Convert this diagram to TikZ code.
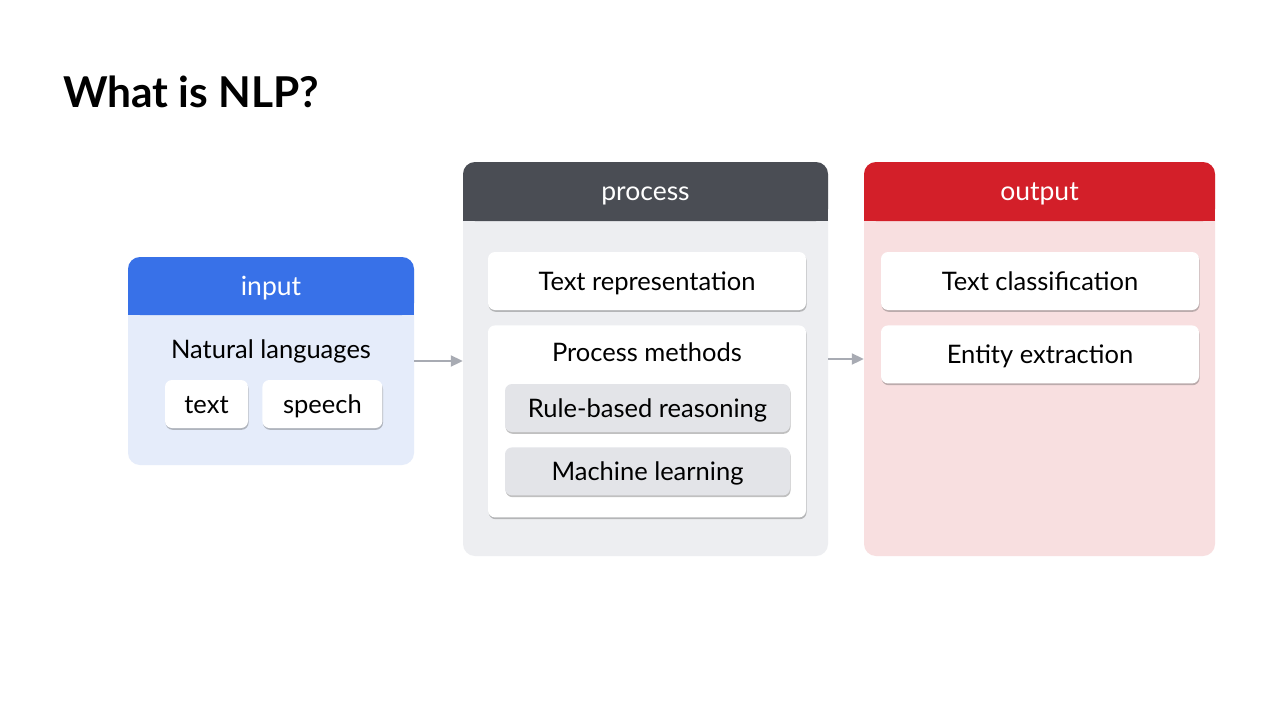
\documentclass[tikz,border=0pt]{standalone}
\usepackage{fontspec}
\setmainfont{Lato}
\usepackage{tikz}
\usetikzlibrary{arrows.meta,shapes,shadows,positioning}
\definecolor{inhead}{HTML}{3871E8}
\definecolor{inbody}{HTML}{E5ECFA}
\definecolor{prochead}{HTML}{4A4D54}
\definecolor{procbody}{HTML}{EDEEF1}
\definecolor{outhead}{HTML}{D31F29}
\definecolor{outbody}{HTML}{F8DFE0}
\definecolor{subfill}{HTML}{E3E4E8}
\definecolor{arrgray}{HTML}{A8ABB3}

\begin{document}
\begin{tikzpicture}[x=1pt, y=-1pt, node distance=15pt and 14pt,
    every node/.style={inner sep=0pt, font=\fontsize{25.5}{30}\selectfont,
      text height=24pt, text depth=5.6pt},
    panel/.style={rounded corners=12pt},
    head/.style={rounded corners=12pt, minimum height=58pt, text=white,
      font=\fontsize{26.5}{30}\selectfont},
    card/.style={fill=white, rounded corners=7pt, minimum height=58pt,
      drop shadow={shadow xshift=0.6pt, shadow yshift=-1.8pt, opacity=0.35, fill=black!70}},
    sub/.style={card, fill=subfill, minimum height=48pt},
    arr/.style={draw=arrgray, line width=2pt, -{Triangle[length=12pt, width=11pt]}}]
  \useasboundingbox[fill=white] (0,0) rectangle (1280,720);

  \node[anchor=base west, font=\fontsize{42.5}{48}\selectfont\bfseries] (title) at (63,107) {What is NLP?};

  % input
  \node[panel, fill=inbody, minimum width=286pt, minimum height=208pt] (in) at (271,361) {};
  \fill[inhead] ([yshift=-20pt]in.north west) rectangle ([yshift=-58pt]in.north east);
  \node[head, fill=inhead, minimum width=286pt, anchor=north] (inh) at (in.north) {input};
  \node (nat) at (271,349) {Natural languages};
  \node[card, minimum width=83pt, minimum height=48pt] (txt) at (206.5,404) {text};
  \node[card, minimum width=120pt, minimum height=48pt] (sp) [right=of txt] {speech};

  % process
  \node[panel, fill=procbody, minimum width=365pt, minimum height=394pt] (proc) at (645.5,359) {};
  \fill[prochead] ([yshift=-20pt]proc.north west) rectangle ([yshift=-59pt]proc.north east);
  \node[head, fill=prochead, minimum width=365pt, minimum height=59pt, anchor=north] (proch) at (proc.north) {process};
  \node[card, minimum width=318pt] (rep) at (647,281) {Text representation};
  \node[card, minimum width=318pt, minimum height=192pt] (meth) [below=of rep] {};
  \node (methl) at ([yshift=-27pt]meth.north) {Process methods};
  \node[sub, minimum width=285pt] (rule) at (647.5,408) {Rule-based reasoning};
  \node[sub, minimum width=285pt] (ml) [below=of rule] {Machine learning};

  % output
  \node[panel, fill=outbody, minimum width=351pt, minimum height=394pt] (out) at (1039.5,359) {};
  \fill[outhead] ([yshift=-20pt]out.north west) rectangle ([yshift=-59pt]out.north east);
  \node[head, fill=outhead, minimum width=351pt, minimum height=59pt, anchor=north] (outh) at (out.north) {output};
  \node[card, minimum width=318pt] (cls) at (1040,281) {Text classification};
  \node[card, minimum width=318pt] (ent) [below=of cls] {Entity extraction};

  \draw[arr] (in.east) -- (proc.west |- in.east);
  \draw[arr] (proc.east) -- (out.west |- proc.east);
\end{tikzpicture}
\end{document}
